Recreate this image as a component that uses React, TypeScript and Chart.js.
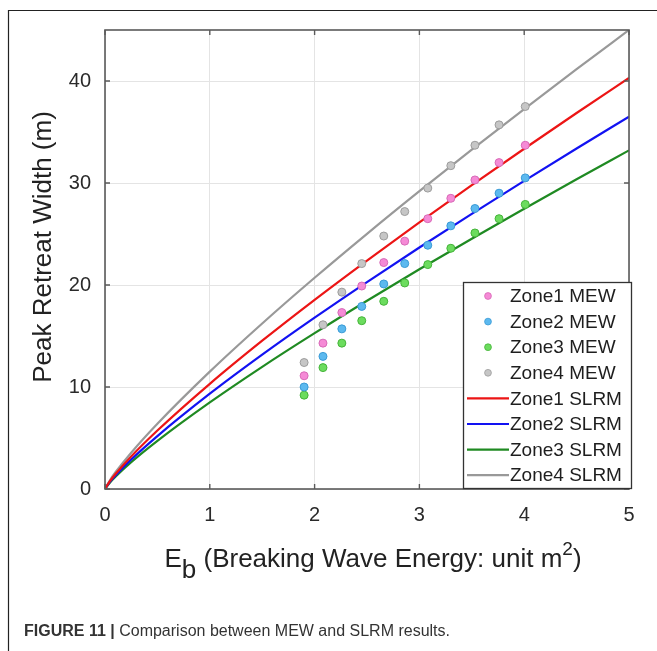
import React, { useEffect, useRef } from "react";
import { Chart, registerables } from "chart.js";

Chart.register(...registerables);

const xTicks = [0, 1, 2, 3, 4, 5];
const yTicks = [0, 10, 20, 30, 40];

const mewX = [1.9, 2.08, 2.26, 2.45, 2.66, 2.86, 3.08, 3.3, 3.53, 3.76, 4.01];
const zone1Mew = [11.1, 14.3, 17.3, 19.9, 22.2, 24.3, 26.5, 28.5, 30.3, 32.0, 33.7];
const zone2Mew = [10.0, 13.0, 15.7, 17.9, 20.1, 22.1, 23.9, 25.8, 27.5, 29.0, 30.5];
const zone3Mew = [9.2, 11.9, 14.3, 16.5, 18.4, 20.2, 22.0, 23.6, 25.1, 26.5, 27.9];
const zone4Mew = [12.4, 16.1, 19.3, 22.1, 24.8, 27.2, 29.5, 31.7, 33.7, 35.7, 37.5];

const slrmX = [0, 0.05, 0.1, 0.25, 0.5, 1, 1.5, 2, 2.5, 3, 3.5, 4, 4.5, 5];
const zone1Slrm = [0, 0.81, 1.47, 3.19, 5.73, 10.31, 14.54, 18.55, 22.4, 26.15, 29.79, 33.36, 36.86, 40.3];
const zone2Slrm = [0, 0.74, 1.33, 2.89, 5.19, 9.34, 13.17, 16.8, 20.29, 23.68, 26.98, 30.21, 33.38, 36.5];
const zone3Slrm = [0, 0.67, 1.21, 2.63, 4.72, 8.49, 11.98, 15.28, 18.46, 21.54, 24.54, 27.48, 30.36, 33.2];
const zone4Slrm = [0, 0.91, 1.64, 3.56, 6.4, 11.51, 16.23, 20.71, 25.02, 29.2, 33.27, 37.25, 41.16, 45.0];

const mewLabels = ["Zone1 MEW", "Zone2 MEW", "Zone3 MEW", "Zone4 MEW"];
const slrmLabels = ["Zone1 SLRM", "Zone2 SLRM", "Zone3 SLRM", "Zone4 SLRM"];

const FONT = "'Liberation Sans', Arial, sans-serif";

const mewFill = ["#f58ad6", "#5cb9ef", "#6cdc5e", "#c6c6c6"];
const mewBorder = ["#d86ab8", "#3a9bd6", "#45b43a", "#9c9c9c"];
const lineColors = ["#ec1515", "#1212f2", "#1f8a22", "#999999"];

const toXY = (xs: number[], ys: number[]) => xs.map((x, i) => ({ x, y: ys[i] }));

export default function App() {
  const ref = useRef<HTMLCanvasElement | null>(null);

  useEffect(() => {
    const canvas = ref.current;
    if (!canvas) return;

    const mewSeries = [zone1Mew, zone2Mew, zone3Mew, zone4Mew];
    const slrmSeries = [zone1Slrm, zone2Slrm, zone3Slrm, zone4Slrm];

    const datasets: any[] = [];
    mewSeries.forEach((ys, i) => {
      datasets.push({
        label: mewLabels[i],
        data: toXY(mewX, ys),
        showLine: false,
        pointRadius: 4,
        pointBackgroundColor: mewFill[i],
        pointBorderColor: mewBorder[i],
        pointBorderWidth: 1,
        order: 1,
      });
    });
    slrmSeries.forEach((ys, i) => {
      datasets.push({
        label: slrmLabels[i],
        data: toXY(slrmX, ys),
        showLine: true,
        pointRadius: 0,
        borderColor: lineColors[i],
        borderWidth: 2.2,
        cubicInterpolationMode: "monotone",
        order: 2,
      });
    });

    const decor = {
      id: "decor",
      beforeDraw(chart: any) {
        const ctx = chart.ctx;
        ctx.save();
        ctx.fillStyle = "#ffffff";
        ctx.fillRect(0, 0, chart.width, chart.height);
        ctx.strokeStyle = "#222";
        ctx.lineWidth = 1.2;
        ctx.beginPath();
        ctx.moveTo(8.5, chart.height);
        ctx.lineTo(8.5, 10.5);
        ctx.lineTo(chart.width, 10.5);
        ctx.stroke();
        ctx.restore();
      },
      afterDraw(chart: any) {
        const ctx = chart.ctx;
        const a = chart.chartArea;
        const xs = chart.scales.x;
        const ys = chart.scales.y;
        ctx.save();
        ctx.strokeStyle = "#5a5a5a";
        ctx.lineWidth = 1.6;
        ctx.strokeRect(a.left, a.top, a.right - a.left, a.bottom - a.top);
        ctx.lineWidth = 1.4;
        ctx.beginPath();
        xTicks.forEach((v) => {
          const px = xs.getPixelForValue(v);
          ctx.moveTo(px, a.bottom);
          ctx.lineTo(px, a.bottom - 5);
          ctx.moveTo(px, a.top);
          ctx.lineTo(px, a.top + 5);
        });
        yTicks.forEach((v) => {
          const py = ys.getPixelForValue(v);
          ctx.moveTo(a.left, py);
          ctx.lineTo(a.left + 5, py);
          ctx.moveTo(a.right, py);
          ctx.lineTo(a.right - 5, py);
        });
        ctx.stroke();

        // legend
        const lx = 463.5, ly = 282.5, lw = 168, lh = 206;
        ctx.fillStyle = "#ffffff";
        ctx.fillRect(lx, ly, lw, lh);
        ctx.strokeStyle = "#333";
        ctx.lineWidth = 1.3;
        ctx.strokeRect(lx, ly, lw, lh);
        const labels = [...mewLabels, ...slrmLabels];
        ctx.font = `19px ${FONT}`;
        ctx.textBaseline = "middle";
        ctx.textAlign = "left";
        labels.forEach((lab, i) => {
          const ry = 296 + i * 25.6;
          if (i < 4) {
            ctx.beginPath();
            ctx.arc(488, ry, 3.4, 0, Math.PI * 2);
            ctx.fillStyle = mewFill[i];
            ctx.fill();
            ctx.strokeStyle = mewBorder[i];
            ctx.lineWidth = 0.8;
            ctx.stroke();
          } else {
            ctx.beginPath();
            ctx.moveTo(467, ry);
            ctx.lineTo(509, ry);
            ctx.strokeStyle = lineColors[i - 4];
            ctx.lineWidth = 2.2;
            ctx.stroke();
          }
          ctx.fillStyle = "#1e1e1e";
          ctx.fillText(lab, 510, ry + 1);
        });

        // y title
        ctx.save();
        ctx.translate(44, 247);
        ctx.rotate(-Math.PI / 2);
        ctx.font = `26px ${FONT}`;
        ctx.fillStyle = "#222";
        ctx.textAlign = "center";
        ctx.textBaseline = "middle";
        ctx.fillText("Peak Retreat Width (m)", 0, 0);
        ctx.restore();

        // x title with sub/superscript
        const big = `26px ${FONT}`;
        const small = `19px ${FONT}`;
        const parts = [
          { t: "E", f: big, dy: 0 },
          { t: "b", f: big, dy: 11 },
          { t: " (Breaking Wave Energy: unit m", f: big, dy: 0 },
          { t: "2", f: small, dy: -12 },
          { t: ")", f: big, dy: 0 },
        ];
        let total = 0;
        parts.forEach((p) => {
          ctx.font = p.f;
          total += ctx.measureText(p.t).width;
        });
        let cx = 373 - total / 2;
        const base = 567;
        ctx.fillStyle = "#222";
        ctx.textAlign = "left";
        ctx.textBaseline = "alphabetic";
        parts.forEach((p) => {
          ctx.font = p.f;
          ctx.fillText(p.t, cx, base + p.dy);
          cx += ctx.measureText(p.t).width;
        });

        // caption
        ctx.fillStyle = "#333";
        ctx.font = `bold 16px ${FONT}`;
        const capBold = "FIGURE 11 | ";
        ctx.fillText(capBold, 24, 636);
        const bw = ctx.measureText(capBold).width;
        ctx.font = `16px ${FONT}`;
        ctx.fillText("Comparison between MEW and SLRM results.", 24 + bw, 636);
        ctx.restore();
      },
    };

    const chart = new Chart(canvas, {
      type: "scatter",
      data: { datasets },
      options: {
        animation: false,
        responsive: false,
        devicePixelRatio: 1,
        layout: { padding: { left: 0, right: 28, top: 30, bottom: 0 } },
        plugins: { legend: { display: false }, tooltip: { enabled: false } },
        scales: {
          x: {
            type: "linear",
            min: 0,
            max: 5,
            afterFit: (s: any) => {
              s.height = 162;
            },
            afterBuildTicks: (s: any) => {
              s.ticks = xTicks.map((v) => ({ value: v }));
            },
            ticks: {
              padding: 14,
              color: "#2a2a2a",
              font: { family: FONT, size: 20 },
              maxRotation: 0,
            },
            grid: { color: "#e4e4e4", drawTicks: false, lineWidth: 1 },
            border: { display: false },
          },
          y: {
            type: "linear",
            min: 0,
            max: 45,
            afterFit: (s: any) => {
              s.width = 105;
            },
            afterBuildTicks: (s: any) => {
              s.ticks = yTicks.map((v) => ({ value: v }));
            },
            ticks: {
              padding: 14,
              color: "#2a2a2a",
              font: { family: FONT, size: 20 },
            },
            grid: { color: "#e4e4e4", drawTicks: false, lineWidth: 1 },
            border: { display: false },
          },
        },
      },
      plugins: [decor],
    });

    return () => chart.destroy();
  }, []);

  return (
    <div style={{ position: "absolute", left: 0, top: 0, width: 657, height: 651 }}>
      <canvas ref={ref} width={657} height={651} style={{ display: "block" }} />
    </div>
  );
}
